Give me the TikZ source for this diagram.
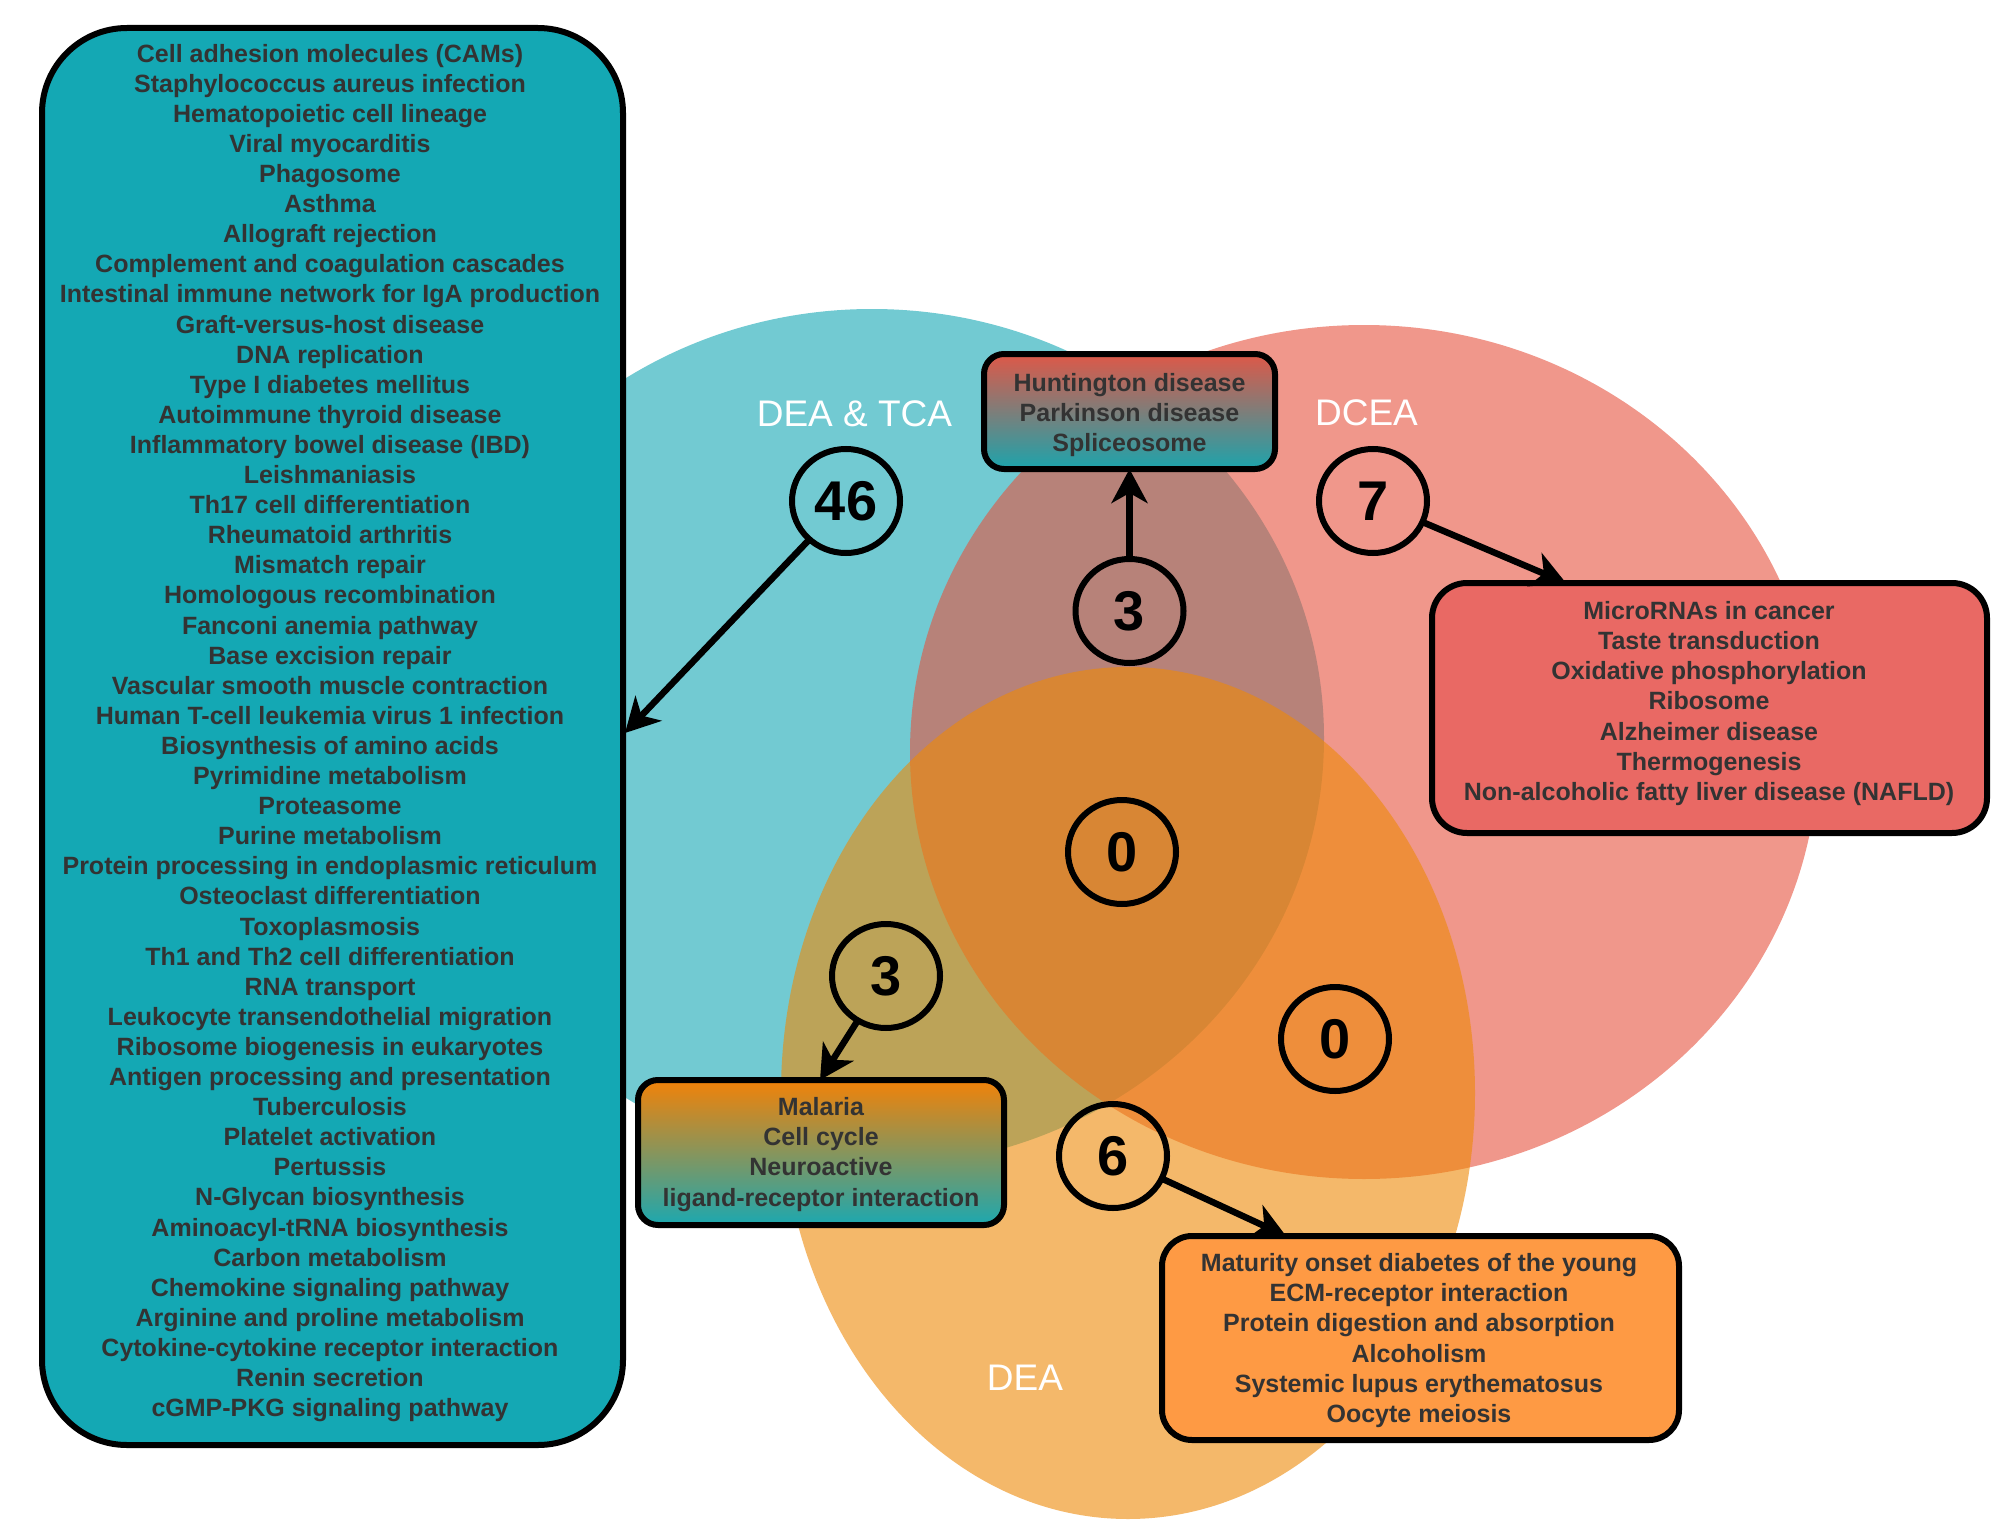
\documentclass[tikz,border=0pt]{standalone}
\usepackage{fontspec}
\setmainfont{Liberation Sans}
\usetikzlibrary{shapes.geometric,arrows.meta}
\definecolor{tealc}{RGB}{20,168,180}
\definecolor{pinkc}{RGB}{230,82,62}
\definecolor{orangec}{RGB}{238,137,7}
\definecolor{txt}{RGB}{51,51,51}
\definecolor{dceabox}{RGB}{233,105,100}
\definecolor{deabox}{RGB}{254,154,68}
\definecolor{huntTop}{RGB}{222,88,72}
\definecolor{huntBot}{RGB}{28,164,172}
\definecolor{malTop}{RGB}{242,130,8}
\definecolor{malBot}{RGB}{28,168,176}
\begin{document}
\begin{tikzpicture}[x=1pt,y=-1pt,
  venn/.style={fill opacity=0.6},
  listbox/.style={draw=black, line width=6pt, inner sep=0pt, outer sep=0pt},
  listtext/.style={text=txt, align=center, inner sep=0pt, font=\fontsize{25}{30.1}\selectfont\bfseries},
  numc/.style={ellipse, draw=black, line width=6pt, minimum width=108pt, minimum height=104pt, inner sep=0pt, outer sep=0pt, font=\fontsize{56}{60}\selectfont\bfseries},
  setlab/.style={text=white, anchor=base, inner sep=0pt, font=\fontsize{37}{40}\selectfont},
  arr/.style={line width=6.5pt, -{Stealth[length=34pt,width=36pt,inset=10pt]}}
]
\useasboundingbox (0,0) rectangle (2006,1525);
\fill[white] (0,0) rectangle (2006,1525);

% Venn sets
\fill[tealc, venn] (872,738) ellipse [x radius=452pt, y radius=429pt];
\fill[pinkc, venn] (1364,752) ellipse [x radius=454pt, y radius=427pt];
\fill[orangec, venn] (1128,1093) ellipse [x radius=347pt, y radius=426pt];

% set labels
\node[setlab] (labA) at (854.5,426) {DEA \& TCA};
\node[setlab] (labB) at (1366.5,425) {DCEA};
\node[setlab] (labC) at (1025,1390) {DEA};

% list boxes
\node[listbox, fill=tealc, rounded corners=85pt, minimum width=581pt, minimum height=1417pt] (lb) at (332.5,736.5) {};
\node[listtext] (lbt) at (330,733) {Cell adhesion molecules (CAMs)\\Staphylococcus aureus infection\\Hematopoietic cell lineage\\Viral myocarditis\\Phagosome\\Asthma\\Allograft rejection\\Complement and coagulation cascades\\Intestinal immune network for IgA production\\Graft-versus-host disease\\DNA replication\\Type I diabetes mellitus\\Autoimmune thyroid disease\\Inflammatory bowel disease (IBD)\\Leishmaniasis\\Th17 cell differentiation\\Rheumatoid arthritis\\Mismatch repair\\Homologous recombination\\Fanconi anemia pathway\\Base excision repair\\Vascular smooth muscle contraction\\Human T-cell leukemia virus 1 infection\\Biosynthesis of amino acids\\Pyrimidine metabolism\\Proteasome\\Purine metabolism\\Protein processing in endoplasmic reticulum\\Osteoclast differentiation\\Toxoplasmosis\\Th1 and Th2 cell differentiation\\RNA transport\\Leukocyte transendothelial migration\\Ribosome biogenesis in eukaryotes\\Antigen processing and presentation\\Tuberculosis\\Platelet activation\\Pertussis\\N-Glycan biosynthesis\\Aminoacyl-tRNA biosynthesis\\Carbon metabolism\\Chemokine signaling pathway\\Arginine and proline metabolism\\Cytokine-cytokine receptor interaction\\Renin secretion\\cGMP-PKG signaling pathway};

\node[listbox, top color=huntTop, bottom color=huntBot, rounded corners=20pt, minimum width=291pt, minimum height=115pt] (hunt) at (1129.5,411.5) {};
\node[listtext] (huntt) at (1129.5,415) {Huntington disease\\Parkinson disease\\Spliceosome};

\node[listbox, fill=dceabox, rounded corners=35pt, minimum width=555pt, minimum height=250pt] (dcea) at (1709.5,708) {};
\node[listtext] (dceat) at (1709,703.5) {MicroRNAs in cancer\\Taste transduction\\Oxidative phosphorylation\\Ribosome\\Alzheimer disease\\Thermogenesis\\Non-alcoholic fatty liver disease (NAFLD)};

\node[listbox, top color=malTop, bottom color=malBot, rounded corners=20pt, minimum width=366pt, minimum height=145pt] (mal) at (821,1152.5) {};
\node[listtext] (malt) at (821,1154.5) {Malaria\\Cell cycle\\Neuroactive\\ligand-receptor interaction};

\node[listbox, fill=deabox, rounded corners=30pt, minimum width=517pt, minimum height=204pt] (deab) at (1420.5,1338) {};
\node[listtext] (deat) at (1419,1340.5) {Maturity onset diabetes of the young\\ECM-receptor interaction\\Protein digestion and absorption\\Alcoholism\\Systemic lupus erythematosus\\Oocyte meiosis};

% count circles
\node[numc] (n46) at (846,501) {46};
\node[numc] (n3a) at (1129.5,611) {3};
\node[numc] (n7) at (1373,501) {7};
\node[numc] (n0a) at (1122,852) {0};
\node[numc] (n0b) at (1335,1039) {0};
\node[numc] (n3b) at (886,976) {3};
\node[numc] (n6) at (1113,1156) {6};

% connectors
\coordinate (t46) at (625,733);
\coordinate (t7) at (1566,583);
\coordinate (t3) at (820,1080);
\coordinate (t6) at (1286,1236);
\draw[arr] (n46) -- (t46);
\draw[arr] (n3a) -- (hunt);
\draw[arr] (n7) -- (t7);
\draw[arr] (n3b) -- (t3);
\draw[arr] (n6) -- (t6);
\end{tikzpicture}
\end{document}
